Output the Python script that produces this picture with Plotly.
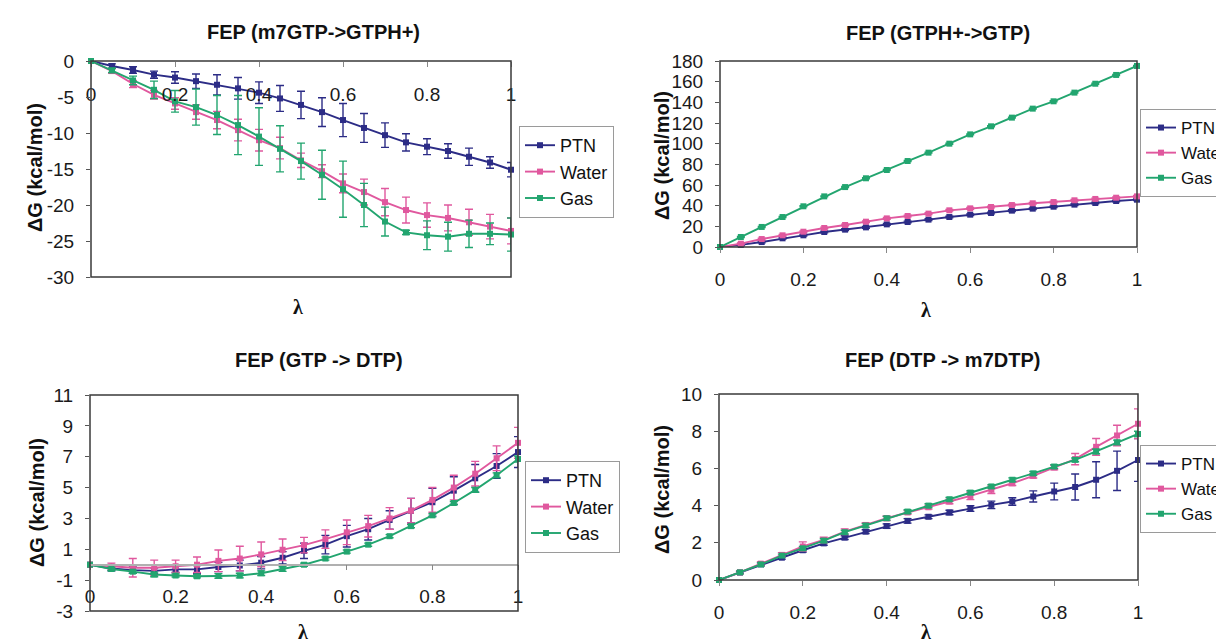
import plotly.graph_objects as go

# ---------------- data ----------------
lam = [0.00, 0.05, 0.10, 0.15, 0.20, 0.25, 0.30, 0.35, 0.40, 0.45, 0.50,
       0.55, 0.60, 0.65, 0.70, 0.75, 0.80, 0.85, 0.90, 0.95, 1.00]
series_names = ["PTN", "Water", "Gas"]

# Panel 1: FEP (m7GTP->GTPH+)
p1_ptn = [0, -0.7, -1.25, -1.9, -2.3, -2.8, -3.3, -3.8, -4.4, -5.2, -6.1,
          -7.1, -8.2, -9.3, -10.3, -11.3, -11.9, -12.5, -13.3, -14.1, -15.1]
p1_ptn_err = [0, 0.3, 0.45, 0.5, 0.8, 1.0, 1.4, 1.5, 1.5, 1.8, 1.9,
              2.0, 2.3, 2.0, 1.7, 1.2, 1.1, 1.0, 1.2, 0.8, 1.0]
p1_water = [0, -1.4, -3.2, -4.7, -5.9, -7.1, -8.2, -9.6, -11.0, -12.1, -13.8,
            -15.3, -17.0, -18.2, -19.6, -20.7, -21.4, -21.8, -22.4, -23.0, -23.6]
p1_water_err = [0, 0.3, 0.5, 0.6, 0.8, 1.0, 1.2, 1.5, 1.5, 1.5, 1.0,
                0.9, 1.3, 1.8, 1.9, 1.8, 1.7, 1.8, 1.8, 1.7, 1.8]
p1_gas = [0, -1.3, -2.7, -4.0, -5.6, -6.4, -7.5, -8.9, -10.5, -12.2, -13.9,
          -15.8, -17.8, -20.0, -22.3, -23.8, -24.2, -24.4, -24.0, -24.0, -24.1]
p1_gas_err = [0, 0.3, 0.6, 1.2, 1.5, 2.5, 2.7, 4.1, 4.0, 3.2, 2.5,
              3.4, 3.9, 3.0, 2.0, 0.3, 2.0, 2.0, 1.9, 1.5, 2.3]

# Panel 2: FEP (GTPH+->GTP)
p2_ptn = [0, 2.0, 4.8, 8.4, 11.3, 14.5, 16.8, 19.0, 21.9, 24.2, 26.5,
          29.0, 31.3, 32.9, 35.2, 37.1, 39.0, 41.0, 42.6, 44.5, 45.8]
p2_ptn_err = [0, 0.8, 0.8, 0.8, 0.8, 0.8, 0.8, 0.8, 0.8, 0.8, 0.8,
              0.8, 0.8, 0.8, 0.8, 0.8, 0.8, 0.8, 0.8, 0.8, 0.8]
p2_water = [0, 3.2, 7.7, 11.3, 14.8, 18.4, 21.3, 24.5, 27.7, 30.0, 32.3,
            35.5, 37.4, 38.7, 40.6, 42.3, 43.5, 45.2, 46.5, 47.7, 49.0]
p2_water_err = [0, 0.8, 0.8, 0.8, 0.8, 0.8, 0.8, 0.8, 0.8, 0.8, 0.8,
                0.8, 0.8, 0.8, 0.8, 0.8, 0.8, 0.8, 0.8, 0.8, 0.8]
p2_gas = [0, 9.7, 19.4, 29.0, 39.4, 49.0, 58.0, 66.5, 74.5, 83.2, 91.3,
          100.0, 109.0, 116.8, 125.2, 133.9, 141.0, 149.4, 158.0, 166.5, 175.2]
p2_gas_err = [0, 0.5, 0.5, 0.5, 0.5, 0.5, 0.5, 0.5, 0.5, 0.5, 0.5,
              0.5, 0.5, 0.5, 0.5, 0.5, 0.5, 0.5, 0.5, 0.5, 0.5]

# Panel 3: FEP (GTP -> DTP)
p3_ptn = [0, -0.25, -0.35, -0.4, -0.3, -0.3, -0.15, -0.05, 0.13, 0.45, 0.9,
          1.3, 1.85, 2.3, 2.9, 3.5, 4.05, 4.8, 5.6, 6.4, 7.3]
p3_ptn_err = [0, 0.15, 0.2, 0.2, 0.2, 0.25, 0.3, 0.35, 0.4, 0.4, 0.5,
              0.6, 0.7, 0.7, 0.6, 0.8, 0.9, 0.9, 0.9, 0.8, 1.0]
p3_water = [0, -0.1, -0.2, -0.2, -0.1, 0.0, 0.25, 0.4, 0.67, 0.97, 1.27,
            1.66, 2.1, 2.5, 3.0, 3.5, 4.2, 5.0, 5.9, 6.9, 7.9]
p3_water_err = [0, 0.2, 0.6, 0.5, 0.4, 0.5, 0.7, 0.8, 0.8, 0.7, 0.5,
                0.6, 0.8, 0.7, 0.7, 0.8, 0.8, 0.8, 0.8, 0.8, 1.0]
p3_gas = [0, -0.28, -0.45, -0.63, -0.7, -0.75, -0.73, -0.7, -0.55, -0.28, 0.0,
          0.4, 0.85, 1.3, 1.85, 2.5, 3.2, 4.0, 4.85, 5.8, 6.85]
p3_gas_err = [0, 0.1, 0.1, 0.15, 0.1, 0.1, 0.15, 0.15, 0.15, 0.15, 0.1,
              0.1, 0.1, 0.1, 0.1, 0.1, 0.1, 0.1, 0.15, 0.15, 0.2]

# Panel 4: FEP (DTP -> m7DTP)
p4_ptn = [0, 0.4, 0.84, 1.2, 1.6, 1.97, 2.28, 2.6, 2.9, 3.18, 3.4,
          3.63, 3.84, 4.04, 4.22, 4.49, 4.76, 5.0, 5.39, 5.87, 6.45]
p4_ptn_err = [0, 0.05, 0.08, 0.08, 0.1, 0.1, 0.1, 0.1, 0.12, 0.12, 0.1,
              0.12, 0.15, 0.2, 0.2, 0.3, 0.45, 0.7, 0.97, 1.06, 1.15]
p4_water = [0, 0.41, 0.88, 1.35, 1.8, 2.15, 2.6, 2.96, 3.32, 3.63, 3.91,
            4.22, 4.52, 4.85, 5.2, 5.6, 6.05, 6.5, 7.16, 7.77, 8.4]
p4_water_err = [0, 0.08, 0.1, 0.12, 0.25, 0.15, 0.15, 0.12, 0.12, 0.1, 0.1,
                0.12, 0.2, 0.2, 0.12, 0.12, 0.12, 0.3, 0.45, 0.55, 0.8]
p4_gas = [0, 0.41, 0.84, 1.31, 1.7, 2.12, 2.57, 2.93, 3.32, 3.68, 4.0,
          4.34, 4.7, 5.03, 5.39, 5.73, 6.1, 6.46, 6.91, 7.4, 7.85]
p4_gas_err = [0, 0.08, 0.08, 0.08, 0.1, 0.1, 0.1, 0.1, 0.1, 0.1, 0.1,
              0.1, 0.1, 0.1, 0.1, 0.1, 0.1, 0.1, 0.12, 0.12, 0.15]

x_tickvals = [0, 0.2, 0.4, 0.6, 0.8, 1]
x_ticktext = ["0", "0.2", "0.4", "0.6", "0.8", "1"]
p1_yticks = [0, -5, -10, -15, -20, -25, -30]
p2_yticks = [0, 20, 40, 60, 80, 100, 120, 140, 160, 180]
p3_yticks = [-3, -1, 1, 3, 5, 7, 9, 11]
p4_yticks = [0, 2, 4, 6, 8, 10]

titles = ["FEP (m7GTP->GTPH+)", "FEP (GTPH+->GTP)", "FEP (GTP -> DTP)", "FEP (DTP -> m7DTP)"]
y_title = "ΔG (kcal/mol)"
x_title = "λ"

# ---------------- style ----------------
W, H = 1224, 644
colors = {"PTN": "#2c2c86", "Water": "#e0589e", "Gas": "#22a56f"}
FONT = "Liberation Sans"


def px_x(p):
    return p / W


def px_y(p):
    return 1 - p / H


# plot areas in pixels (left, right, top, bottom)
boxes = [
    (83, 503, 53, 269),
    (712, 1129, 53, 239),
    (82, 510, 387, 603),
    (711, 1130, 386, 572),
]
yranges = [[-30, 0], [0, 180], [-3, 11], [0, 10]]
yticks = [p1_yticks, p2_yticks, p3_yticks, p4_yticks]
panels = [
    [(p1_ptn, p1_ptn_err), (p1_water, p1_water_err), (p1_gas, p1_gas_err)],
    [(p2_ptn, p2_ptn_err), (p2_water, p2_water_err), (p2_gas, p2_gas_err)],
    [(p3_ptn, p3_ptn_err), (p3_water, p3_water_err), (p3_gas, p3_gas_err)],
    [(p4_ptn, p4_ptn_err), (p4_water, p4_water_err), (p4_gas, p4_gas_err)],
]
legend_pos = [(511, 118), (1132, 101), (517, 453), (1132, 437)]
legend_font = [18, 17, 18, 17]
title_pos = [(305, 24), (930, 25), (311, 352), (934, 352)]
ytitle_pos = [(27, 160), (654, 148), (29, 495), (654, 482)]
xtitle_pos = [(290, 299), (918, 302), (295, 624), (918, 624)]
xlabel_standoff = [11, 10, 10, 10]

fig = go.Figure()
layout = dict(
    width=W, height=H,
    margin=dict(l=0, r=0, t=0, b=0, autoexpand=False),
    paper_bgcolor="white", plot_bgcolor="white",
    showlegend=True,
    annotations=[], shapes=[],
)

for i in range(4):
    k = "" if i == 0 else str(i + 1)
    xa, ya = "x" + k, "y" + k
    lg = "legend" + k
    l, r, t, b = boxes[i]
    ydom = [px_y(b), px_y(t)]
    xdom = [px_x(l), px_x(r)]
    y0, y1 = yranges[i]

    for (vals, err), name in zip(panels[i], series_names):
        fig.add_trace(go.Scatter(
            x=lam, y=vals, name=name, mode="lines+markers",
            xaxis=xa, yaxis=ya, legend=lg, cliponaxis=False,
            line=dict(color=colors[name], width=1.9),
            marker=dict(symbol="square", size=6, color=colors[name]),
            error_y=dict(type="data", array=err, visible=True,
                         color=colors[name], thickness=1.4, width=4),
        ))

    # x-axis crosses the y axis at 0
    zero_frac = (0 - y0) / (y1 - y0)
    xpos = ydom[0] + zero_frac * (ydom[1] - ydom[0])
    xaxis = dict(
        domain=xdom, range=[0, 1], tickvals=x_tickvals, ticktext=x_ticktext,
        showgrid=False, zeroline=False, ticks="outside", ticklen=5,
        tickcolor="#888", tickwidth=1,
        tickfont=dict(family=FONT, size=19, color="#1a1a1a"),
        ticklabelstandoff=xlabel_standoff[i], fixedrange=True,
    )
    if i in (0, 2):
        xaxis.update(anchor="free", position=xpos, side="bottom")
        if i == 2:
            xaxis.update(showline=True, linecolor="#b0b0b0", linewidth=1.5)
        else:
            xaxis.update(showline=False)
    else:
        xaxis.update(anchor=ya, showline=False)
    layout["xaxis" + k] = xaxis
    layout["yaxis" + k] = dict(
        domain=ydom, range=[y0, y1], tickvals=yticks[i],
        ticktext=[str(v) for v in yticks[i]],
        anchor=xa, showgrid=False, zeroline=False, showline=False,
        ticks="outside", ticklen=4, tickcolor="#555",
        tickfont=dict(family=FONT, size=19, color="#1a1a1a"),
        ticklabelstandoff=8, fixedrange=True,
    )
    # plot frame
    layout["shapes"].append(dict(
        type="rect", xref=xa + " domain", yref=ya + " domain",
        x0=0, x1=1, y0=0, y1=1, line=dict(color="#3a3a3a", width=1.5),
        fillcolor="rgba(0,0,0,0)", layer="above"))

    lx, ly = legend_pos[i]
    layout[lg] = dict(
        x=px_x(lx), y=px_y(ly), xanchor="left", yanchor="top",
        bgcolor="white", bordercolor="#9a9a9a", borderwidth=1,
        font=dict(family=FONT, size=legend_font[i], color="#111"),
        itemwidth=30, tracegroupgap=0,
    )

    tx, ty = title_pos[i]
    layout["annotations"].append(dict(
        text="<b>" + titles[i] + "</b>", x=px_x(tx), y=px_y(ty),
        xref="paper", yref="paper", showarrow=False,
        xanchor="center", yanchor="middle",
        font=dict(family=FONT, size=20, color="#111")))
    yx, yy = ytitle_pos[i]
    layout["annotations"].append(dict(
        text="<b>" + y_title + "</b>", x=px_x(yx), y=px_y(yy),
        xref="paper", yref="paper", showarrow=False, textangle=-90,
        xanchor="center", yanchor="middle",
        font=dict(family=FONT, size=20, color="#111")))
    lxx, lyy = xtitle_pos[i]
    layout["annotations"].append(dict(
        text="<b>" + x_title + "</b>", x=px_x(lxx), y=px_y(lyy),
        xref="paper", yref="paper", showarrow=False,
        xanchor="center", yanchor="middle",
        font=dict(family="Liberation Serif", size=20, color="#111")))

fig.update_layout(**layout)
fig.write_html("out.html")
